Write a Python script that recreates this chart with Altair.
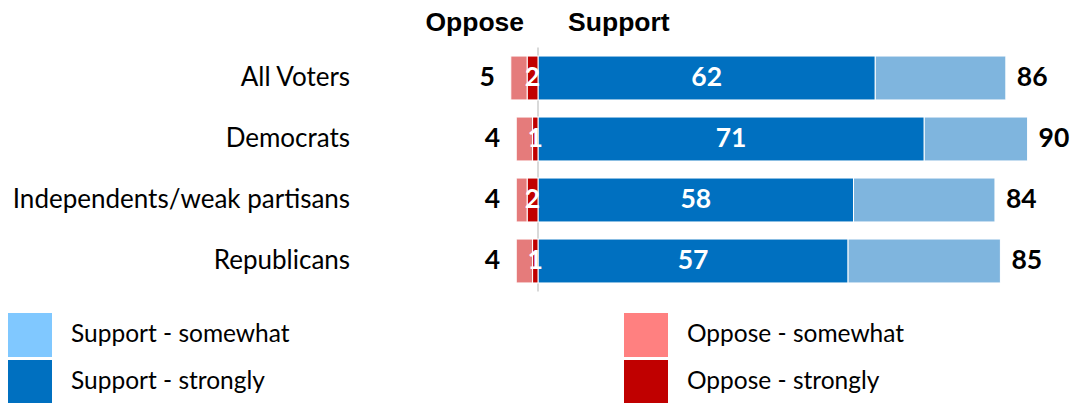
import altair as alt
import pandas as pd

# ---- data ----
categories = ["All Voters", "Democrats", "Independents/weak partisans", "Republicans"]
support_strongly = [62, 71, 58, 57]
support_total = [86, 90, 84, 85]
oppose_strongly = [2, 1, 2, 1]
oppose_total = [5, 4, 4, 4]

segment_names = ["Support - strongly", "Support - somewhat", "Oppose - strongly", "Oppose - somewhat"]
bar_colors = ["#0070C0", "#7FB5DE", "#C00000", "#E57B7B"]

support_legend = ["Support - somewhat", "Support - strongly"]
support_legend_colors = ["#80C8FF", "#0070C0"]
oppose_legend = ["Oppose - somewhat", "Oppose - strongly"]
oppose_legend_colors = ["#FF8080", "#C00000"]

# ---- tables built from the arrays ----
rows = []
for c, ss, st, os_, ot in zip(categories, support_strongly, support_total, oppose_strongly, oppose_total):
    rows.append({"category": c, "segment": "Support - strongly", "start": 0, "end": ss})
    rows.append({"category": c, "segment": "Support - somewhat", "start": ss, "end": st})
    rows.append({"category": c, "segment": "Oppose - strongly", "start": 0, "end": -os_})
    rows.append({"category": c, "segment": "Oppose - somewhat", "start": -os_, "end": -ot})
seg_df = pd.DataFrame(rows)

lab_df = pd.DataFrame({
    "category": categories,
    "ss": support_strongly,
    "ss_mid": [v / 2 for v in support_strongly],
    "st": support_total,
    "os": oppose_strongly,
    "os_mid": [-v / 2 for v in oppose_strongly],
    "ot": oppose_total,
    "ot_neg": [-v for v in oppose_total],
})

NUM_FONT = "Lato"
TXT_FONT = "Lato"
NUM_SIZE = 26.5

y_enc = alt.Y(
    "category:N",
    sort=categories,
    scale=alt.Scale(paddingInner=0.28, paddingOuter=0.14),
    axis=alt.Axis(title=None, ticks=False, domain=False, labelFont=TXT_FONT,
                  labelFontSize=26, labelColor="black", labelPadding=134, labelLimit=500),
)
x_scale = alt.Scale(domain=[-10, 95], nice=False, zero=False)

rule = alt.Chart(pd.DataFrame({"z": [0]})).mark_rule(color="#D9D9D9", strokeWidth=2).encode(
    x=alt.X("z:Q", scale=x_scale, axis=None)
)

bars = alt.Chart(seg_df).mark_bar(stroke="white", strokeWidth=1).encode(
    y=y_enc,
    x=alt.X("start:Q", scale=x_scale, axis=None),
    x2="end:Q",
    color=alt.Color("segment:N", scale=alt.Scale(domain=segment_names, range=bar_colors), legend=None),
)

inner_support = alt.Chart(lab_df).mark_text(
    font=NUM_FONT, fontWeight="bold", fontSize=NUM_SIZE, color="white", baseline="middle", align="center"
).encode(y=alt.Y("category:N", sort=categories), x="ss_mid:Q", text="ss:Q")

inner_oppose = alt.Chart(lab_df).mark_text(
    font=NUM_FONT, fontWeight="bold", fontSize=NUM_SIZE, color="white", baseline="middle", align="center"
).encode(y=alt.Y("category:N", sort=categories), x="os_mid:Q", text="os:Q")

total_oppose = alt.Chart(lab_df).mark_text(
    font=NUM_FONT, fontWeight="bold", fontSize=NUM_SIZE, color="black", baseline="middle", align="right", dx=-16
).encode(y=alt.Y("category:N", sort=categories), x="ot_neg:Q", text="ot:Q")

total_support = alt.Chart(lab_df).mark_text(
    font=NUM_FONT, fontWeight="bold", fontSize=NUM_SIZE, color="black", baseline="middle", align="left", dx=11
).encode(y=alt.Y("category:N", sort=categories), x="st:Q", text="st:Q")

head_opp = alt.Chart(pd.DataFrame({"h": ["Oppose"]})).mark_text(
    font="Liberation Sans", fontWeight="bold", fontSize=26.5, color="black", align="right", baseline="middle"
).encode(text="h:N", x=alt.value(40.5), y=alt.value(-25))
head_sup = alt.Chart(pd.DataFrame({"h": ["Support"]})).mark_text(
    font="Liberation Sans", fontWeight="bold", fontSize=26.5, color="black", align="left", baseline="middle"
).encode(text="h:N", x=alt.value(84.5), y=alt.value(-25))

def legend_layer(names, colors, lx, ly):
    return alt.Chart(pd.DataFrame({"lab": names})).mark_point(filled=True, opacity=0).encode(
        color=alt.Color(
            "lab:N",
            scale=alt.Scale(domain=names, range=colors),
            legend=alt.Legend(
                orient="none", legendX=lx, legendY=ly, title=None, direction="vertical",
                symbolType="square", symbolSize=1936, symbolOpacity=1, symbolStrokeWidth=0,
                labelFont=TXT_FONT, labelFontSize=24.5, labelColor="black", labelOffset=19,
                rowPadding=3, padding=0, labelLimit=400,
            ),
        )
    )

leg_sup = legend_layer(support_legend, support_legend_colors, -475.6, 265.5)
leg_opp = legend_layer(oppose_legend, oppose_legend_colors, 140.4, 265.5)

chart = alt.layer(
    rule, bars, inner_support, inner_oppose, total_oppose, total_support, head_opp, head_sup, leg_sup, leg_opp
).resolve_scale(color="independent").properties(
    width=571.2,
    height=244,
    autosize=alt.AutoSizeParams(type="none"),
    padding={"left": 475.6, "top": 39.5, "right": 16.2, "bottom": 111.5},
).configure_view(stroke=None)

chart.save("out.html", embed_options={"renderer": "svg", "actions": False})
